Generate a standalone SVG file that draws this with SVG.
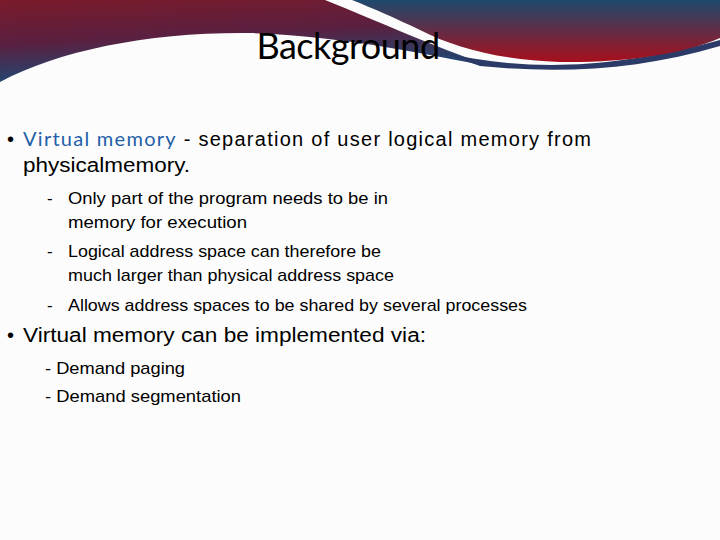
<svg xmlns="http://www.w3.org/2000/svg" width="720" height="540" viewBox="0 0 720 540">
<style>
.t{font-family:"Liberation Sans",Arial,sans-serif;fill:#000}
.b{font-size:20px}.s{font-size:17px}
</style>
<defs>
<linearGradient id="gl" x1="0" y1="0" x2="0.3" y2="1"><stop offset="0" stop-color="#7a1a2a"/><stop offset="0.5" stop-color="#5a2040"/><stop offset="1" stop-color="#1a4c78"/></linearGradient>
<linearGradient id="gr" x1="0" y1="0" x2="0" y2="1"><stop offset="0" stop-color="#1e4a6e"/><stop offset="1" stop-color="#a80f1c"/></linearGradient>
</defs>
<rect width="720" height="540" fill="#fcfcfc"/>
<g id="header">
<path d="M0,0 H325 C380,22 430,45 490,66 C430,56 350,36 250,33 C150,32 60,50 0,82 Z" fill="url(#gl)"/>
<path d="M440,52 C520,70 600,72 720,40 V46 C640,70 560,74 480,66 Z" fill="#2b3a66"/>
<path d="M352,0 H720 V38 C680,55 620,63 560,62 C500,60 455,48 420,30 C395,18 372,8 352,0 Z" fill="url(#gr)"/>
</g>
<g id="title"><text x="348" y="59" text-anchor="middle" style="font-family:Lato,sans-serif;font-size:36px;letter-spacing:-0.5px">Background</text></g>
<g id="body">
<text class="t b" x="7" y="146">•</text>
<text class="t b" x="23" y="146" textLength="568" lengthAdjust="spacing"><tspan style="font-family:Lato,sans-serif;fill:#1f5fa8">Virtual memory</tspan> - separation of user  logical memory from</text>
<text class="t b" x="23" y="172" textLength="167" lengthAdjust="spacingAndGlyphs">physicalmemory.</text>
<text class="t s" x="47" y="204">-</text>
<text class="t s" x="68" y="204" textLength="320" lengthAdjust="spacingAndGlyphs">Only part of the program needs to be in</text>
<text class="t s" x="68" y="228" textLength="179" lengthAdjust="spacingAndGlyphs">memory for execution</text>
<text class="t s" x="47" y="257">-</text>
<text class="t s" x="68" y="257" textLength="313" lengthAdjust="spacingAndGlyphs">Logical address space can therefore be</text>
<text class="t s" x="68" y="281" textLength="326" lengthAdjust="spacingAndGlyphs">much larger than physical address space</text>
<text class="t s" x="47" y="311">-</text>
<text class="t s" x="68" y="311" textLength="459" lengthAdjust="spacingAndGlyphs">Allows address spaces to  be shared by  several processes</text>
<text class="t b" x="7" y="342">•</text>
<text class="t b" x="23" y="342" textLength="403" lengthAdjust="spacingAndGlyphs">Virtual memory can be implemented  via:</text>
<text class="t s" x="45" y="374" textLength="140" lengthAdjust="spacingAndGlyphs">- Demand paging</text>
<text class="t s" x="45" y="402" textLength="196" lengthAdjust="spacingAndGlyphs">- Demand segmentation</text>
</g>
</svg>
